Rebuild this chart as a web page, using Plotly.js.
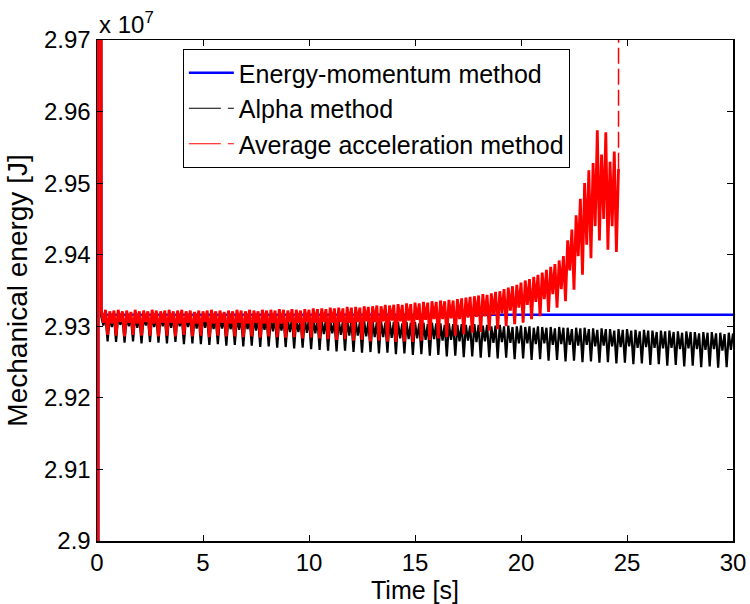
<!DOCTYPE html>
<html><head><meta charset="utf-8">
<script src="https://cdn.plot.ly/plotly-3.0.1.min.js"></script>
<style>html,body{margin:0;padding:0;background:#fff}#chart{width:750px;height:604px}</style>
</head><body><div id="chart"></div>
<script>
// Mechanical energy values in kJ (1 kJ = 10^3 J); sampled every 0.1 s from t = 0
const sampleStart = 0;   // s
const sampleStep = 0.1;  // s

const energyMomentumTime = [0, 0.1, 0.2, 30];
const energyMomentum = [20000, 37000, 29316, 29316];

const alphaMethod = [
  20000, 37000,
  29314, 29301, 29315, 29279, 29313, 29299, 29314, 29278, 29315, 29302,
  29313, 29277, 29314, 29300, 29312, 29279, 29315, 29298, 29313, 29276,
  29314, 29301, 29312, 29278, 29315, 29299, 29313, 29277, 29314, 29300,
  29312, 29276, 29314, 29298, 29313, 29278, 29315, 29300, 29312, 29275,
  29313, 29299, 29314, 29276, 29312, 29297, 29313, 29275, 29314, 29298,
  29312, 29274, 29313, 29296, 29311, 29275, 29313, 29297, 29312, 29273,
  29312, 29296, 29310, 29274, 29313, 29295, 29311, 29272, 29312, 29296,
  29310, 29273, 29312, 29294, 29311, 29271, 29312, 29295, 29310, 29272,
  29311, 29293, 29312, 29270, 29310, 29294, 29311, 29271, 29309, 29292,
  29311, 29269, 29310, 29292, 29309, 29270, 29311, 29291, 29310, 29268,
  29309, 29290, 29310, 29267, 29308, 29289, 29310, 29266, 29309, 29290,
  29308, 29265, 29309, 29288, 29307, 29266, 29309, 29287, 29308, 29264,
  29308, 29287, 29306, 29263, 29308, 29286, 29307, 29264, 29308, 29285,
  29306, 29262, 29307, 29285, 29305, 29263, 29307, 29284, 29306, 29261,
  29306, 29283, 29304, 29262, 29306, 29282, 29305, 29260, 29306, 29283,
  29304, 29261, 29305, 29281, 29303, 29259, 29305, 29282, 29304, 29260,
  29304, 29280, 29302, 29258, 29304, 29281, 29303, 29259, 29302, 29279,
  29303, 29257, 29302, 29280, 29301, 29258, 29303, 29278, 29302, 29256,
  29301, 29279, 29302, 29257, 29300, 29277, 29301, 29255, 29302, 29278,
  29300, 29256, 29301, 29277, 29299, 29254, 29300, 29276, 29301, 29255,
  29299, 29276, 29300, 29253, 29298, 29275, 29300, 29254, 29299, 29276,
  29298, 29252, 29299, 29274, 29297, 29253, 29299, 29275, 29298, 29251,
  29298, 29274, 29296, 29252, 29298, 29273, 29297, 29250, 29298, 29274,
  29296, 29251, 29297, 29272, 29295, 29249, 29297, 29273, 29296, 29250,
  29296, 29272, 29294, 29248, 29296, 29271, 29295, 29249, 29296, 29272,
  29294, 29247, 29295, 29270, 29293, 29248, 29295, 29271, 29294, 29246,
  29294, 29270, 29292, 29247, 29294, 29269, 29293, 29245, 29294, 29270,
  29292, 29246, 29293, 29268, 29291, 29244, 29293, 29269, 29292, 29245,
  29292, 29268, 29290, 29243, 29292, 29267, 29291, 29244, 29292, 29268,
  29290, 29242, 29291, 29266, 29289, 29243, 29291, 29267, 29290
];

const averageAcceleration = [
  21000, 37000,
  29322, 29305, 29323, 29288, 29321, 29304, 29322, 29287, 29323, 29306,
  29321, 29286, 29322, 29305, 29320, 29288, 29323, 29304, 29321, 29287,
  29322, 29306, 29321, 29287, 29323, 29304, 29322, 29286, 29321, 29305,
  29322, 29287, 29323, 29305, 29321, 29286, 29322, 29304, 29323, 29288,
  29321, 29305, 29322, 29286, 29320, 29304, 29322, 29287, 29321, 29306,
  29322, 29285, 29323, 29304, 29321, 29287, 29322, 29305, 29320, 29286,
  29322, 29304, 29321, 29286, 29323, 29305, 29322, 29285, 29321, 29304,
  29323, 29286, 29322, 29305, 29321, 29284, 29323, 29304, 29322, 29286,
  29323, 29305, 29322, 29285, 29324, 29304, 29323, 29284, 29322, 29306,
  29324, 29285, 29323, 29305, 29322, 29283, 29324, 29306, 29323, 29284,
  29325, 29305, 29324, 29283, 29325, 29306, 29324, 29282, 29326, 29305,
  29325, 29281, 29326, 29306, 29325, 29282, 29327, 29305, 29326, 29280,
  29327, 29306, 29326, 29281, 29328, 29307, 29327, 29279, 29328, 29306,
  29329, 29280, 29328, 29307, 29330, 29279, 29329, 29308, 29330, 29278,
  29331, 29307, 29330, 29279, 29332, 29308, 29331, 29278, 29333, 29309,
  29332, 29280, 29334, 29309, 29333, 29281, 29335, 29310, 29334, 29283,
  29336, 29310, 29335, 29285, 29337, 29311, 29336, 29287, 29338, 29310,
  29339, 29289, 29340, 29312, 29341, 29291, 29342, 29313, 29343, 29292,
  29345, 29314, 29344, 29294, 29346, 29316, 29348, 29296, 29349, 29318,
  29352, 29300, 29354, 29322, 29356, 29303, 29358, 29326, 29361, 29305,
  29364, 29330, 29366, 29310, 29369, 29334, 29372, 29314, 29375, 29338,
  29379, 29320, 29383, 29345, 29387, 29326, 29392, 29352, 29398, 29335,
  29420, 29378, 29435, 29351, 29455, 29398, 29478, 29372, 29500, 29414,
  29518, 29395, 29528, 29440, 29574, 29420, 29540, 29450, 29571, 29407,
  29530, 29440, 29544, 29404, 29520, 40000
];

const seriesNames = ['Energy-momentum method', 'Alpha method', 'Average acceleration method'];
const seriesColors = ['#0000ff', '#000000', '#ff0000'];

const xTickValues = [0, 5, 10, 15, 20, 25, 30];
const yTickValues = [29000, 29100, 29200, 29300, 29400, 29500, 29600, 29700];
const yTickLabels = ['2.9', '2.91', '2.92', '2.93', '2.94', '2.95', '2.96', '2.97'];

const dashPattern = '16px,5px';
const legendDash = '32px,7px';
const lastIdx = averageAcceleration.length - 2;

const traces = [
  // data
  {type: 'scatter', mode: 'lines', showlegend: false,
   x: energyMomentumTime, y: energyMomentum,
   line: {color: seriesColors[0], width: 2.5, simplify: false}},
  {type: 'scatter', mode: 'lines', showlegend: false,
   x0: sampleStart, dx: sampleStep, y: alphaMethod,
   line: {color: seriesColors[1], width: 2.2, simplify: false}},
  {type: 'scatter', mode: 'lines', showlegend: false,
   x0: sampleStart, dx: sampleStep, y: averageAcceleration.slice(0, -1),
   line: {color: seriesColors[2], width: 2.8, simplify: false}},
  // divergence of the average acceleration method (last step)
  {type: 'scatter', mode: 'lines', showlegend: false,
   x0: sampleStart + lastIdx * sampleStep, dx: sampleStep, y: averageAcceleration.slice(-2),
   line: {color: seriesColors[2], width: 1.5, dash: dashPattern, simplify: false}},
  // legend entries
  {type: 'scatter', mode: 'lines', name: seriesNames[0], x: [null], y: [null],
   line: {color: seriesColors[0], width: 2.5}},
  {type: 'scatter', mode: 'lines', name: seriesNames[1], x: [null], y: [null],
   line: {color: seriesColors[1], width: 1.2, dash: legendDash}},
  {type: 'scatter', mode: 'lines', name: seriesNames[2], x: [null], y: [null],
   line: {color: seriesColors[2], width: 1.2, dash: legendDash}}
];

const fontFamily = 'Liberation Sans, Arial, Helvetica, sans-serif';
const layout = {
  width: 750, height: 604,
  margin: {l: 97, r: 17, t: 40, b: 63, pad: 0},
  paper_bgcolor: '#ffffff', plot_bgcolor: '#ffffff',
  font: {family: fontFamily, size: 24, color: '#000000'},
  showlegend: true,
  legend: {x: 0.135, y: 0.982, xanchor: 'left', yanchor: 'top', itemwidth: 45,
           bgcolor: '#ffffff', bordercolor: '#000000', borderwidth: 1,
           font: {family: fontFamily, size: 25, color: '#000000'}},
  xaxis: {range: [0, 30], tickvals: xTickValues, ticks: 'inside', ticklen: 6,
          tickcolor: '#000000', showline: true, mirror: 'ticks', linecolor: '#000000',
          linewidth: 1.5, showgrid: false, zeroline: false, automargin: false},
  yaxis: {range: [29000, 29700], tickvals: yTickValues, ticktext: yTickLabels,
          ticks: 'inside', ticklen: 6, tickcolor: '#000000', showline: true,
          mirror: 'ticks', linecolor: '#000000', linewidth: 1.5, showgrid: false,
          zeroline: false, automargin: false,
          title: {text: 'Mechanical energy [J]', standoff: 8, font: {size: 28}}},
  annotations: [
    {text: 'x 10<sup>7</sup>', xref: 'paper', yref: 'paper', x: 0, y: 1,
     xanchor: 'left', yanchor: 'bottom', showarrow: false,
     font: {family: fontFamily, size: 24, color: '#000000'}},
    {text: 'Time [s]', xref: 'paper', yref: 'paper', x: 0.5, y: -0.098,
     xanchor: 'center', yanchor: 'middle', showarrow: false,
     font: {family: fontFamily, size: 25, color: '#000000'}}
  ]
};

Plotly.newPlot('chart', traces, layout, {displayModeBar: false, staticPlot: true});
</script>
</body></html>
